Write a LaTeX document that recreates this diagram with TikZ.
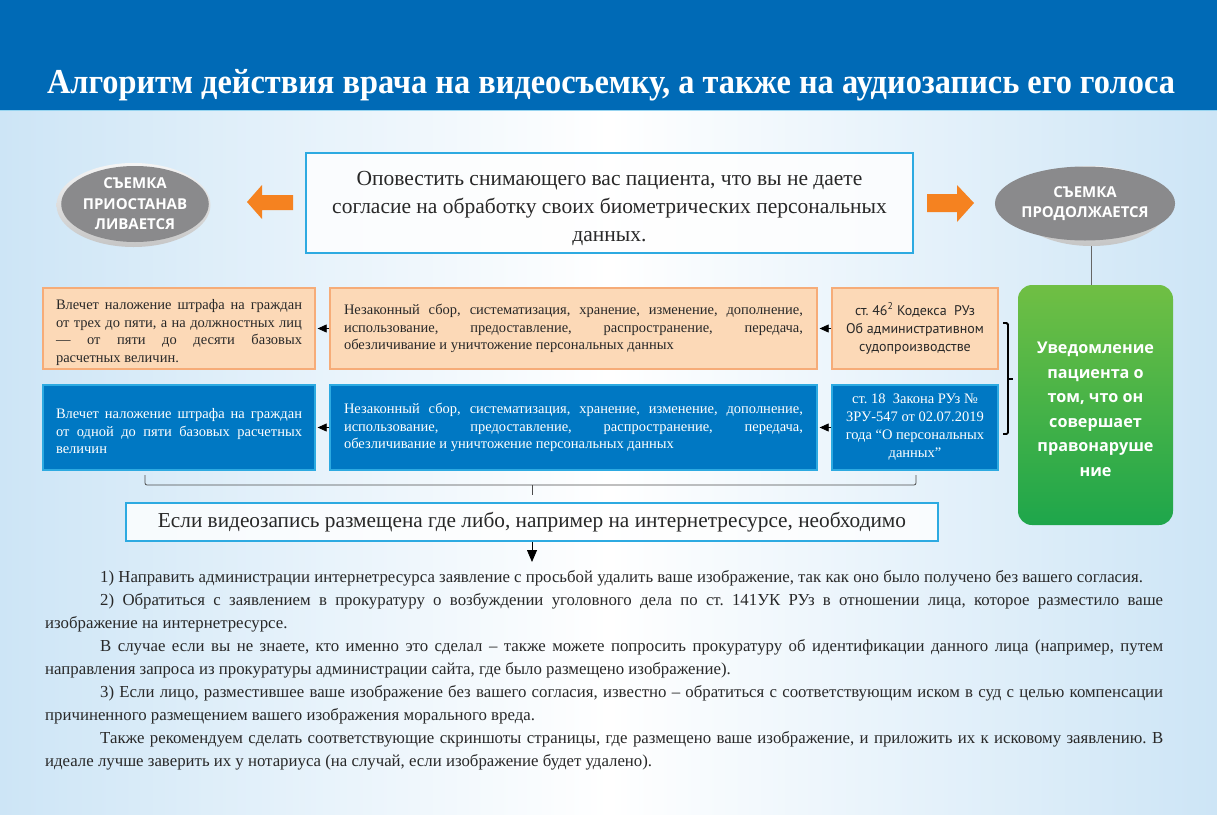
\documentclass[tikz,border=0pt]{standalone}
\usepackage{fontspec}
\setmainfont{Liberation Serif}
\newfontfamily\ovalfont{Open Sans}
\newfontfamily\codefont{PT Sans}
\usetikzlibrary{arrows.meta,shapes.geometric}
\frenchspacing

\definecolor{headblue}{RGB}{0,106,182}
\definecolor{frameblue}{RGB}{45,170,225}
\definecolor{fillblue}{RGB}{0,120,195}
\definecolor{peach}{RGB}{252,217,183}
\definecolor{peachline}{RGB}{246,172,120}
\definecolor{signorange}{RGB}{245,130,32}
\definecolor{ovalgray}{RGB}{138,138,140}
\definecolor{lightgreen}{RGB}{112,191,68}
\definecolor{darkgreen}{RGB}{30,166,75}
\definecolor{bgblue}{RGB}{205,229,246}
\definecolor{textgray}{RGB}{40,40,40}

\tikzset{
  infobox/.style={draw=frameblue, line width=1.3pt, fill=white, fill opacity=0.8, text opacity=1, text=textgray, align=center},
  peachbox/.style={draw=peachline, line width=1.3pt, fill=peach, text=textgray, font=\fontsize{14.5}{17.5}\selectfont, inner sep=0pt},
  bluebox/.style={draw=frameblue, line width=1.3pt, fill=fillblue, text=white, font=\fontsize{14.5}{17.5}\selectfont, inner sep=0pt},
  ovalnode/.style={ellipse, fill=ovalgray, text=white, inner sep=0pt, align=center, font=\ovalfont\bfseries\fontsize{15}{20.5}\selectfont},
  ovalrim/.style={ellipse, inner sep=0pt, top color=gray!8, bottom color=gray!45},
  linkarrow/.style={-{Triangle[length=9pt,width=8pt]}, line width=0.8pt, shorten >=2pt},
}

\begin{document}
\begin{tikzpicture}[x=1pt,y=-1pt]
  \useasboundingbox (0,0) rectangle (1217,814);
  % background and header
  \shade[left color=bgblue, right color=bgblue, middle color=white] (0,110) rectangle (1217,814);
  \fill[headblue] (0,0) rectangle (1217,110);
  \draw[frameblue!50, line width=1pt] (0,110.5) -- (1217,110.5);
  \node[text=white, anchor=base, inner sep=0pt] (title) at (611,93)
    {\resizebox{1128pt}{\height}{\fontsize{35}{40}\selectfont\bfseries Алгоритм действия врача на видеосъемку, а также на аудиозапись его голоса}};

  % first step
  \node[infobox, minimum width=607pt, minimum height=100pt, font=\fontsize{21.5}{28}\selectfont] (consent) at (609.5,203)
    {\rule{0pt}{26pt}Оповестить снимающего вас пациента, что вы не даете\\согласие на обработку своих биометрических персональных\\данных.};
  \node[ovalrim, minimum width=154pt, minimum height=84pt] (rimL) at (133.5,205) {};
  \node[ovalnode, minimum width=140pt, minimum height=76pt] (stopL) at (135,204) {СЪЕМКА\\ПРИОСТАНАВ\\ЛИВАЕТСЯ};
  \node[ovalrim, minimum width=153pt, minimum height=80pt] (rimR) at (1091.5,206) {};
  \node[ovalnode, minimum width=140pt, minimum height=74pt] (goR) at (1085,203.5) {СЪЕМКА\\ПРОДОЛЖАЕТСЯ};
  \fill[signorange] (247,202) -- (262,185) -- (262,195) -- (293,195) -- (293,210) -- (262,210) -- (262,219) -- cycle;
  \fill[signorange] (974,203) -- (957,185) -- (957,194) -- (927,194) -- (927,212) -- (957,212) -- (957,222) -- cycle;

  % notice
  \node[rounded corners=14pt, top color=lightgreen, bottom color=darkgreen, minimum width=155pt, minimum height=240pt,
        text=white, align=center, font=\ovalfont\bfseries\fontsize{16.2}{24.5}\selectfont] (notice) at (1095.5,405)
    {\rule{0pt}{20pt}Уведомление\\пациента о\\том, что он\\совершает\\правонаруше\\ние};
  \draw[gray!80!black, line width=1pt] (rimR.south) -- (rimR.south |- notice.north);

  % administrative code
  \node[peachbox, minimum width=272pt, minimum height=81pt, text width=246pt, align=justify] (fineA) at (179,328.5)
    {\rule{0pt}{18pt}Влечет наложение штрафа на граждан\linebreak от трех до пяти, а на должностных лиц\linebreak — от пяти до десяти базовых\linebreak расчетных величин.};
  \node[peachbox, minimum width=487pt, minimum height=81pt, text width=459pt, align=justify] (actA) at (573.5,328.5)
    {Незаконный сбор, систематизация, хранение, изменение, дополнение,\linebreak использование, предоставление, распространение, передача,\linebreak обезличивание и уничтожение персональных данных};
  \node[peachbox, font=\codefont\fontsize{14}{18}\selectfont, minimum width=166pt, minimum height=81pt, align=center] (lawA) at (915,328.5)
    {ст. 46\textsuperscript{2} Кодекса~~РУз\\Об административном\\судопроизводстве};
  \draw[linkarrow] (actA.west) -- (fineA.east);
  \draw[linkarrow] (lawA.west) -- (actA.east);

  % personal data law
  \node[bluebox, minimum width=272pt, minimum height=85pt, text width=246pt, align=justify] (fineB) at (179,427.5)
    {\rule{0pt}{18pt}Влечет наложение штрафа на граждан\linebreak от одной до пяти базовых расчетных\linebreak величин};
  \node[bluebox, minimum width=487pt, minimum height=85pt, text width=459pt, align=justify] (actB) at (573.5,427.5)
    {Незаконный сбор, систематизация, хранение, изменение, дополнение,\linebreak использование, предоставление, распространение, передача,\linebreak обезличивание и уничтожение персональных данных};
  \node[bluebox, font=\fontsize{14.5}{18}\selectfont, minimum width=166pt, minimum height=85pt, align=center] (lawB) at (915,427.5)
    {ст. 18~~Закона РУз №\\ЗРУ-547 от 02.07.2019\\года “О персональных\\данных”};
  \draw[linkarrow] (actB.west) -- (fineB.east);
  \draw[linkarrow] (lawB.west) -- (actB.east);

  % brackets
  \draw[line width=1.8pt, rounded corners=1.5pt] (1003,323) -- (1008,323) -- (1008,434) -- (1003,434);
  \draw[line width=1.8pt] (1008,379) -- (1013,379);
  \draw[gray!60!black, line width=0.8pt, rounded corners=2pt] (145,475) -- (145,485) -- (916,485) -- (916,475);
  \draw[gray!60!black, line width=0.8pt] (532,485) -- (532,495);

  % if posted
  \node[infobox, minimum width=812pt, minimum height=38pt, font=\fontsize{21.3}{24}\selectfont] (posted) at (532,522)
    {Если видеозапись размещена где либо, например на интернетресурсе, необходимо};
  \coordinate (steps) at (532,562);
  \draw[-{Triangle[length=12pt,width=10pt]}, line width=0.8pt] (posted.south) -- (steps);

  \node[anchor=north west, text width=1118pt, align=justify, inner sep=0pt, text=textgray, font=\fontsize{16.8}{23}\selectfont] (advice) at (45,570)
    {\noindent\hspace*{55pt}1) Направить администрации интернетресурса заявление с просьбой удалить ваше изображение, так как оно было получено без вашего согласия.\par
     \noindent\hspace*{55pt}2) Обратиться с заявлением в прокуратуру о возбуждении уголовного дела по ст. 141УК РУз в отношении лица, которое разместило ваше\linebreak изображение на интернетресурсе.\par
     \noindent\hspace*{55pt}В случае если вы не знаете, кто именно это сделал – также можете попросить прокуратуру об идентификации данного лица (например, путем\linebreak направления запроса из прокуратуры администрации сайта, где было размещено изображение).\par
     \noindent\hspace*{55pt}3) Если лицо, разместившее ваше изображение без вашего согласия, известно – обратиться с соответствующим иском в суд с целью компенсации\linebreak причиненного размещением вашего изображения морального вреда.\par
     \noindent\hspace*{55pt}Также рекомендуем сделать соответствующие скриншоты страницы, где размещено ваше изображение, и приложить их к исковому заявлению. В\linebreak идеале лучше заверить их у нотариуса (на случай, если изображение будет удалено).};
\end{tikzpicture}
\end{document}
